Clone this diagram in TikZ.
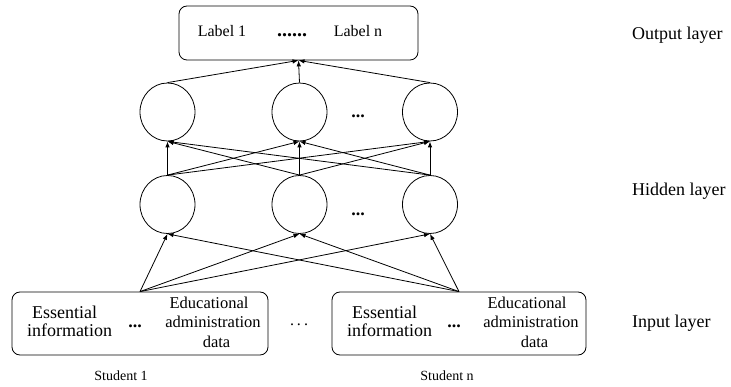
\documentclass[tikz,border=0pt]{standalone}
\usepackage{fontspec}
\setmainfont{Liberation Serif}
\usetikzlibrary{arrows.meta,shapes.geometric}
\begin{document}
\begin{tikzpicture}[x=1pt,y=-1pt,
  neuron/.style={draw,ellipse,minimum width=55pt,minimum height=58pt,inner sep=0pt,line width=0.8pt},
  boxstyle/.style={draw,rounded corners=8pt,line width=0.8pt,inner sep=0pt},
  conn/.style={line width=0.8pt,-{Latex[length=6pt,width=4.5pt]}},
  txtbig/.style={inner sep=0pt,anchor=base,font=\fontsize{18}{18}\selectfont},
  txtmid/.style={inner sep=0pt,anchor=base,font=\fontsize{16.5}{16.5}\selectfont},
  txtlab/.style={inner sep=0pt,anchor=base,font=\fontsize{16}{16}\selectfont},
  txtlayer/.style={inner sep=0pt,anchor=base west,font=\fontsize{18}{18}\selectfont},
  txtstu/.style={inner sep=0pt,anchor=base,font=\fontsize{14}{14}\selectfont},
  bdots/.style={inner sep=0pt,anchor=base,font=\fontsize{18}{18}\selectfont\bfseries}
]
\useasboundingbox (0,0) rectangle (731,387);

% output box
\node[boxstyle,minimum width=239pt,minimum height=54pt] (out) at (298.5,33) {};
\node[txtlab] (lab1) at (222,37) {Label 1};
\node[inner sep=0pt,anchor=base,font=\fontsize{20}{20}\selectfont\bfseries] (labdots) at (292,37) {......};
\node[txtlab] (labn) at (358,37) {Label n};

% hidden layers
\node[neuron] (t1) at (167.5,112) {};
\node[neuron] (t2) at (299.5,112) {};
\node[neuron] (t3) at (430,112) {};
\node[neuron] (b1) at (167.5,204.5) {};
\node[neuron] (b2) at (299.5,204.5) {};
\node[neuron] (b3) at (430,204.5) {};
\node[bdots] (tdots) at (358,118) {...};
\node[bdots] (bdotsn) at (358,216) {...};

% input boxes
\node[boxstyle,minimum width=256pt,minimum height=63pt] (in1) at (140,323.5) {};
\node[boxstyle,minimum width=254pt,minimum height=63pt] (in2) at (459,323.5) {};

\node[txtbig] (e1a) at (64.5,319) {Essential};
\node[txtbig] (e1b) at (69.5,337) {information};
\node[bdots] (d1) at (135,328) {...};
\node[txtmid] (a1a) at (209,309) {Educational};
\node[txtmid] (a1b) at (213,328) {administration};
\node[txtmid] (a1c) at (216.5,348) {data};

\node[txtbig] (e2a) at (384.5,319) {Essential};
\node[txtbig] (e2b) at (389.5,337) {information};
\node[bdots] (d2) at (454,328) {...};
\node[txtmid] (a2a) at (527,309) {Educational};
\node[txtmid] (a2b) at (531,328) {administration};
\node[txtmid] (a2c) at (534.5,348) {data};

\node[inner sep=0pt,anchor=base,font=\fontsize{16}{16}\selectfont] (middots) at (299,326) {.\kern3pt.\kern3pt.};

% labels
\node[txtlayer] (lo) at (632,40) {Output layer};
\node[txtlayer] (lh) at (632,196) {Hidden layer};
\node[txtlayer] (li) at (632,327) {Input layer};
\node[txtstu] (s1) at (121,381) {Student 1};
\node[txtstu] (sn) at (447,381) {Student n};

% connections
\foreach \t in {t1,t2,t3} \draw[conn] (\t.north) -- (out.south);
\foreach \b in {b1,b2,b3} \foreach \t in {t1,t2,t3} \draw[conn] (\b.north) -- (\t.south);
\foreach \i in {in1,in2} \foreach \b in {b1,b2,b3} \draw[conn] (\i.north) -- (\b.south);
\end{tikzpicture}
\end{document}
